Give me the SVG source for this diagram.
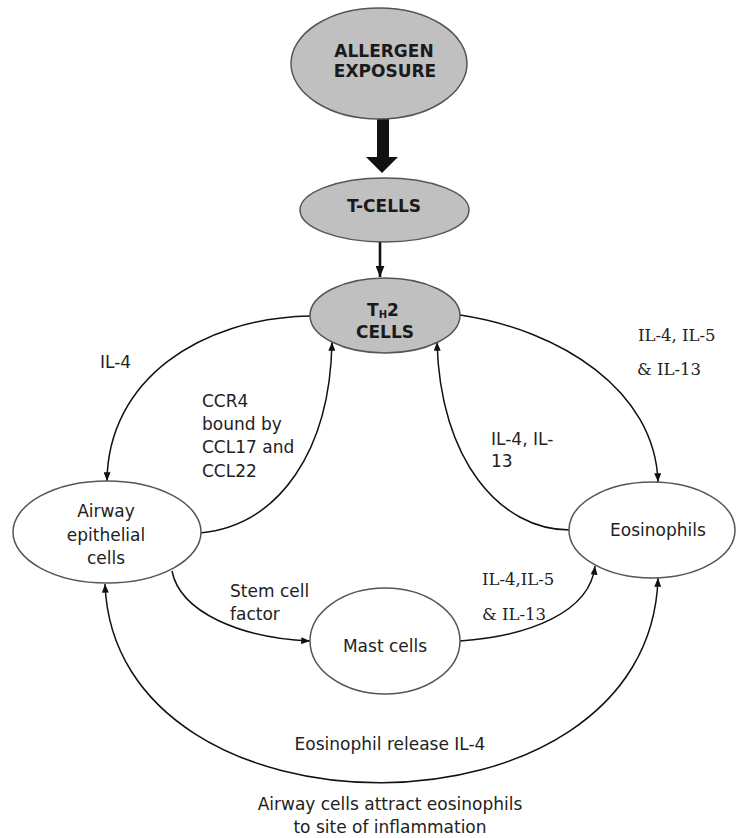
<svg xmlns="http://www.w3.org/2000/svg" width="739" height="838" viewBox="0 0 739 838">
<style>
.node-gray{fill:#c0c0c0;stroke:#555;stroke-width:1.5}
.node-white{fill:#fff;stroke:#555;stroke-width:1.5}
.b{font-family:"DejaVu Sans",Verdana,sans-serif;font-weight:bold;font-size:17px;fill:#1a1a1a}
.t{font-family:"DejaVu Sans",Verdana,sans-serif;font-size:17px;fill:#222}
.s{font-family:"DejaVu Serif",serif;font-size:16.5px;fill:#222}
.c{text-anchor:middle}
.conn{fill:none;stroke:#111;stroke-width:1.5}
.thick{stroke-width:2.6}
</style>
<defs>
<marker id="ah" viewBox="0 0 10 8" refX="10" refY="4" markerWidth="9" markerHeight="7" markerUnits="userSpaceOnUse" orient="auto-start-reverse">
<path d="M0,0 L10,4 L0,8 z" fill="#111"/>
</marker>
<marker id="ahb" viewBox="0 0 10 8" refX="10" refY="4" markerWidth="11" markerHeight="9" markerUnits="userSpaceOnUse" orient="auto">
<path d="M0,0 L10,4 L0,8 z" fill="#111"/>
</marker>
</defs>
<rect width="739" height="838" fill="#fff"/>

<g id="connectors">
<polygon points="377,119 389,119 389,157 398,157 382,173 366,157 377,157" fill="#111"/>
<path class="conn thick" d="M380,242 L380,277" marker-end="url(#ahb)"/>
<path class="conn" d="M310,316 C200,318 108,380 107,481" marker-end="url(#ah)"/>
<path class="conn" d="M200,533 C280,525 330,450 332,342" marker-end="url(#ah)"/>
<path class="conn" d="M460,315 C560,330 655,390 658,482" marker-end="url(#ah)"/>
<path class="conn" d="M570,530 C500,530 440,460 437,342" marker-end="url(#ah)"/>
<path class="conn" d="M172,571 C180,612 240,638 310,641" marker-end="url(#ah)"/>
<path class="conn" d="M460,641 C530,636 590,612 595,566" marker-end="url(#ah)"/>
<path class="conn" d="M105,584 C115,850 650,850 658,578" marker-start="url(#ah)" marker-end="url(#ah)"/>
</g>

<g id="allergen">
<ellipse class="node-gray" cx="379" cy="63.5" rx="88" ry="55.5"/>
<text class="b c" x="384" y="57">ALLERGEN</text>
<text class="b c" x="385" y="77">EXPOSURE</text>
</g>

<g id="tcells">
<ellipse class="node-gray" cx="384.5" cy="210" rx="84.5" ry="32"/>
<text class="b c" x="384" y="212">T-CELLS</text>
</g>

<g id="th2">
<ellipse class="node-gray" cx="385" cy="315.5" rx="75" ry="37.5"/>
<text class="b c" x="383" y="316">T<tspan font-size="10" dy="2">H</tspan><tspan dy="-2">2</tspan></text>
<text class="b c" x="385" y="338">CELLS</text>
</g>

<g id="airway">
<ellipse class="node-white" cx="107" cy="532" rx="94" ry="51"/>
<text class="t c" x="106" y="517">Airway</text>
<text class="t c" x="106" y="541">epithelial</text>
<text class="t c" x="106" y="564">cells</text>
</g>

<g id="eosinophils">
<ellipse class="node-white" cx="652" cy="530" rx="83" ry="48"/>
<text class="t c" x="658" y="536">Eosinophils</text>
</g>

<g id="mast">
<ellipse class="node-white" cx="385" cy="641" rx="75" ry="53"/>
<text class="t c" x="385" y="652">Mast cells</text>
</g>

<g id="labels">
<text class="t" x="100" y="368">IL-4</text>
<text class="t" x="202" y="407">CCR4</text>
<text class="t" x="202" y="430">bound by</text>
<text class="t" x="202" y="453">CCL17 and</text>
<text class="t" x="202" y="477">CCL22</text>
<text class="s" x="638" y="341">IL-4, IL-5</text>
<text class="s" x="637" y="375">&amp; IL-13</text>
<text class="t" x="491" y="445">IL-4, IL-</text>
<text class="t" x="491" y="467">13</text>
<text class="t" x="230" y="597">Stem cell</text>
<text class="t" x="230" y="620">factor</text>
<text class="s" x="482" y="585">IL-4,IL-5</text>
<text class="s" x="482" y="620">&amp; IL-13</text>
<text class="t c" x="390" y="750">Eosinophil release IL-4</text>
<text class="t c" x="390" y="810">Airway cells attract eosinophils</text>
<text class="t c" x="390" y="833">to site of inflammation</text>
</g>
</svg>
